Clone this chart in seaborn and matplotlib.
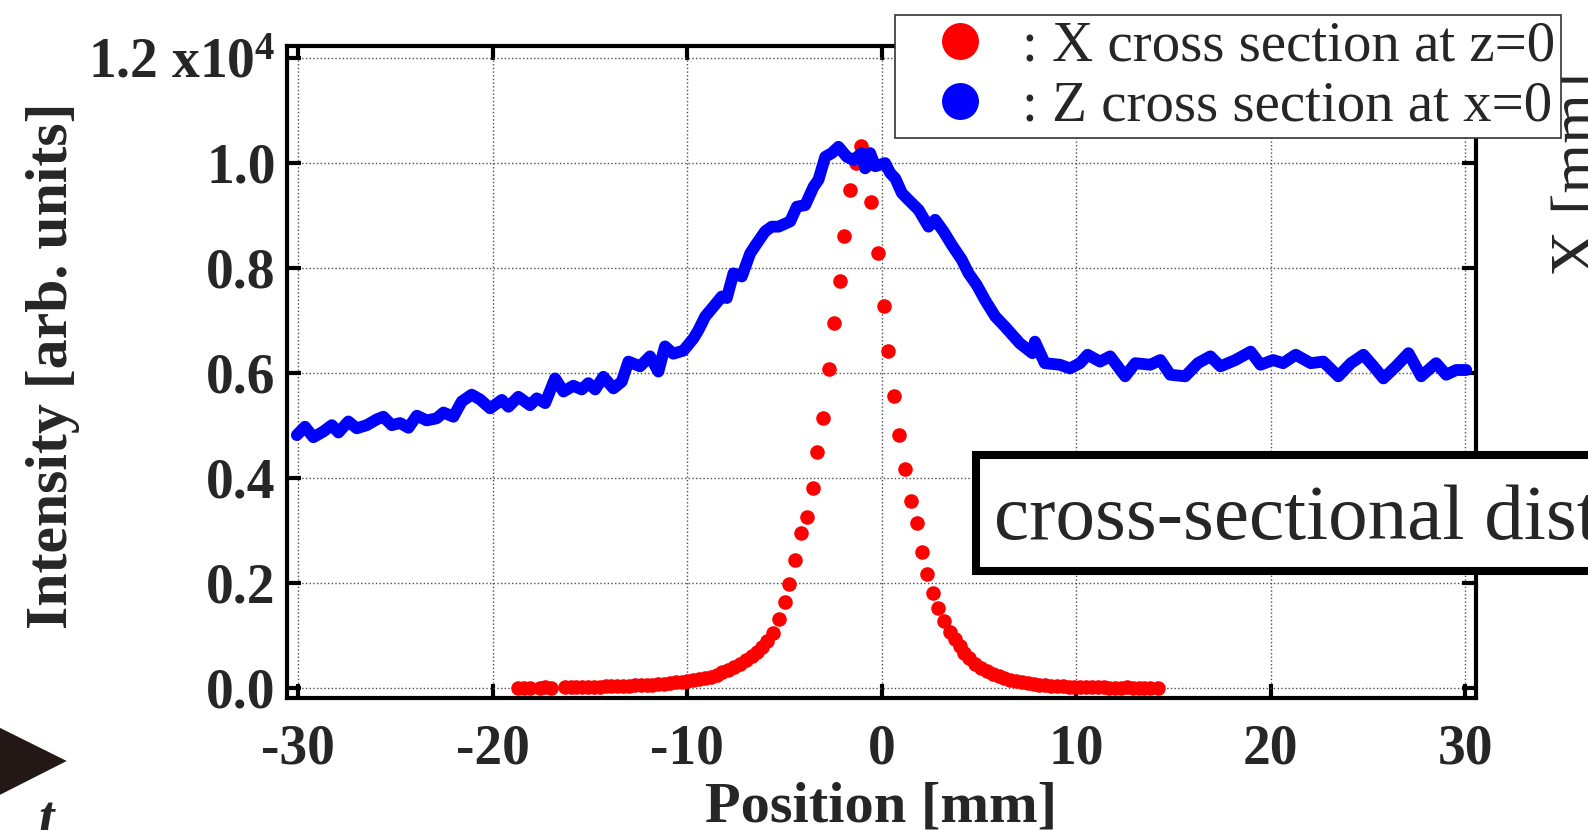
import matplotlib
matplotlib.use('Agg')
import matplotlib.pyplot as plt
import seaborn as sns
from matplotlib.lines import Line2D
from matplotlib.patches import Rectangle, Polygon

# X cross section at z=0 (red dots), intensity in units of 1e4
x_cross_pos = [-18.7, -18.4, -18.1, -17.6, -17.3, -17.0,
               -16.3, -16.0, -15.7, -15.4, -15.1, -14.8, -14.5, -14.2, -13.9, -13.6,
               -13.3, -13.0, -12.7, -12.4, -12.1, -11.8, -11.5, -11.2, -10.9, -10.6,
               -10.3, -10.0, -9.7, -9.4, -9.1, -8.8, -8.5, -8.2, -7.9, -7.6,
               -7.3, -7.0, -6.7, -6.4, -6.15, -5.9, -5.6, -5.3, -5.0, -4.75,
               -4.46, -4.15, -3.86, -3.56, -3.34, -3.04, -2.74, -2.45, -2.14, -1.94,
               -1.63, -1.35, -1.06, -0.80, -0.55, -0.22, 0.09, 0.34, 0.65, 0.88,
               1.20, 1.49, 1.79, 2.06, 2.30, 2.62, 2.90, 3.20, 3.48, 3.75,
               4.0, 4.25, 4.5, 4.8, 5.1, 5.4, 5.7, 6.0, 6.3, 6.6,
               6.9, 7.2, 7.5, 7.8, 8.1, 8.4, 8.7, 9.0, 9.3, 9.6,
               9.9, 10.2, 10.5, 10.8, 11.1, 11.4, 11.7, 12.0, 12.3, 12.6,
               12.9, 13.2, 13.5, 13.8, 14.2]
x_cross_int = [0.000, 0.000, 0.000, 0.000, 0.001, 0.000,
               0.001, 0.001, 0.001, 0.002, 0.002, 0.002, 0.002, 0.003, 0.003, 0.003,
               0.004, 0.004, 0.005, 0.005, 0.006, 0.006, 0.007, 0.008, 0.009, 0.010,
               0.011, 0.012, 0.014, 0.016, 0.018, 0.021, 0.025, 0.029, 0.034, 0.039,
               0.046, 0.053, 0.060, 0.068, 0.078, 0.088, 0.105, 0.130, 0.163, 0.197,
               0.243, 0.295, 0.326, 0.380, 0.448, 0.514, 0.606, 0.694, 0.775, 0.861,
               0.947, 1.000, 1.032, 0.995, 0.924, 0.827, 0.726, 0.642, 0.556, 0.481,
               0.416, 0.356, 0.313, 0.259, 0.216, 0.180, 0.152, 0.127, 0.107, 0.092,
               0.079, 0.067, 0.056, 0.046, 0.038, 0.031, 0.026, 0.022, 0.018, 0.015,
               0.012, 0.010, 0.009, 0.007, 0.006, 0.005, 0.004, 0.003, 0.003, 0.002,
               0.002, 0.001, 0.001, 0.001, 0.001, 0.001, 0.000, 0.000, 0.000, 0.001,
               0.000, 0.000, 0.000, 0.000, 0.000]

# Z cross section at x=0 (blue line)
z_cross_pos = [-30.08, -29.66, -29.23, -28.71, -28.28, -27.94, -27.43, -27.0, -26.48, -25.97,
               -25.63, -25.2, -24.77, -24.34, -23.91, -23.40, -22.89, -22.54, -22.03, -21.6,
               -21.09, -20.66, -20.14, -19.54, -19.2, -18.69, -18.09, -17.74, -17.31, -16.8,
               -16.37, -15.86, -15.43, -15.09, -14.74, -14.32, -13.80, -13.37, -13.03, -12.43,
               -11.92, -11.49, -11.15, -10.72, -10.2, -9.69, -9.43, -9.08, -8.65, -8.23,
               -7.97, -7.63, -7.2, -6.77, -6.43, -6.0, -5.66, -5.31, -4.71, -4.37,
               -3.94, -3.51, -3.26, -2.91, -2.57, -2.23, -1.80, -1.46, -1.03, -0.86,
               -0.6, -0.34, 0.17, 0.43, 0.69, 1.03, 1.37, 1.89, 2.40, 2.74,
               3.17, 3.60, 4.11, 4.46, 4.88, 5.31, 5.83, 6.32, 7.09, 7.74,
               7.87, 8.38, 9.16, 9.67, 10.19, 10.58, 11.22, 11.74, 12.51, 13.03,
               13.80, 14.32, 14.83, 15.6, 16.25, 16.89, 17.41, 18.18, 18.96, 19.47,
               20.12, 20.63, 21.28, 22.05, 22.7, 23.47, 24.12, 24.76, 25.28, 25.79,
               26.44, 27.08, 27.73, 28.5, 29.02, 29.53, 30.05]
z_cross_int = [0.481, 0.497, 0.477, 0.488, 0.500, 0.486, 0.507, 0.494, 0.500, 0.511,
               0.516, 0.500, 0.504, 0.495, 0.518, 0.509, 0.513, 0.524, 0.516, 0.545,
               0.558, 0.549, 0.532, 0.548, 0.535, 0.554, 0.538, 0.551, 0.542, 0.589,
               0.564, 0.575, 0.568, 0.580, 0.568, 0.592, 0.570, 0.583, 0.621, 0.612,
               0.631, 0.602, 0.650, 0.636, 0.642, 0.665, 0.681, 0.707, 0.726, 0.745,
               0.742, 0.789, 0.783, 0.827, 0.846, 0.869, 0.878, 0.878, 0.888, 0.916,
               0.919, 0.954, 0.967, 1.011, 1.018, 1.030, 1.011, 1.005, 1.018, 0.989,
               1.018, 0.993, 0.999, 0.980, 0.970, 0.942, 0.929, 0.910, 0.878, 0.891,
               0.869, 0.843, 0.815, 0.789, 0.767, 0.738, 0.707, 0.688, 0.656, 0.637,
               0.659, 0.618, 0.615, 0.608, 0.618, 0.634, 0.621, 0.631, 0.593, 0.618,
               0.615, 0.624, 0.596, 0.593, 0.618, 0.631, 0.612, 0.624, 0.640, 0.615,
               0.624, 0.618, 0.634, 0.618, 0.621, 0.593, 0.618, 0.634, 0.612, 0.589,
               0.612, 0.637, 0.593, 0.618, 0.596, 0.605, 0.605]

xticks = [-30, -20, -10, 0, 10, 20, 30]
yticks = [0.0, 0.2, 0.4, 0.6, 0.8, 1.0, 1.2]
ytick_labels = ['0.0', '0.2', '0.4', '0.6', '0.8', '1.0', '1.2 x10$^{4}$']
legend_labels = [': X cross section at z=0', ': Z cross section at x=0']

sns.set_style('ticks')
plt.rcParams['font.family'] = ['Liberation Serif', 'DejaVu Serif']
plt.rcParams['mathtext.fontset'] = 'custom'
plt.rcParams['mathtext.rm'] = 'Liberation Serif:bold'
plt.rcParams['mathtext.bf'] = 'Liberation Serif:bold'
plt.rcParams['mathtext.it'] = 'Liberation Serif:italic:bold'
plt.rcParams['axes.unicode_minus'] = False

W, H = 1588, 830
fig = plt.figure(figsize=(15.88, 8.30), dpi=100)
ax = fig.add_axes([286.7 / W, 1 - 698 / H, (1476 - 286.7) / W, (698 - 46) / H])

sns.scatterplot(x=x_cross_pos, y=x_cross_int, color='#ff0000', s=110, linewidth=0,
                ax=ax, zorder=3)
sns.lineplot(x=z_cross_pos, y=z_cross_int, color='#0000ff', lw=8.5, ax=ax,
             estimator=None, sort=False, zorder=4,
             solid_joinstyle='round', solid_capstyle='round')

ax.set_xlim(-30.6, 30.55)
ax.set_ylim(-0.0196, 1.222)
ax.set_xticks(xticks, [str(t) for t in xticks], fontsize=40, fontweight='bold')
ax.set_yticks(yticks, ytick_labels, fontsize=40, fontweight='bold')
ax.grid(True, ls=':', lw=1.0, color='0.3')
ax.set_axisbelow(True)
for s in ax.spines.values():
    s.set_visible(True)
    s.set_linewidth(3)
    s.set_color('k')
ax.tick_params(direction='in', length=10, width=3, top=True, right=True,
               labeltop=False, labelright=False, color='k')
ax.tick_params(axis='x', pad=18)
ax.tick_params(axis='y', pad=8)

ax.set_xlabel('Position [mm]', fontsize=42, fontweight='bold')
ax.xaxis.set_label_coords(0.5, -0.128)
ax.set_ylabel('Intensity [arb. units]', fontsize=43, fontweight='bold')
ax.yaxis.set_label_coords(-0.1734, 0.51)

handles = [Line2D([], [], ls='', marker='o', ms=26.6, color='#ff0000', mec='none'),
           Line2D([], [], ls='', marker='o', ms=26.6, color='#0000ff', mec='none')]
leg = ax.legend(handles, legend_labels, loc='upper right',
                bbox_to_anchor=(1560.7 / W, 1 - 15 / H), bbox_transform=fig.transFigure,
                prop={'family': 'Liberation Serif', 'size': 41},
                frameon=True, fancybox=False, framealpha=1, edgecolor='0.2',
                borderpad=0.1, handlelength=2.08, handletextpad=0.05,
                labelspacing=0.14, borderaxespad=0)
leg.get_frame().set_linewidth(1.2)

# pieces of the surrounding figure that are cut by the crop
fig.text(1551 / W, 1 - 173.5 / H, 'X [mm]', rotation=90, fontsize=46,
         ha='left', va='center', zorder=-1)
fig.add_artist(Rectangle((976 / W, 1 - 571 / H), (1700 - 976) / W, (571 - 455) / H,
                         transform=fig.transFigure, facecolor='white', edgecolor='k',
                         lw=5.8, zorder=5, clip_on=False))
fig.text(993.5 / W, 1 - 539 / H, 'cross-sectional distribution', fontsize=57,
         va='baseline', ha='left', zorder=6)
fig.add_artist(Polygon([(-30 / W, 1 - 713 / H), (66.7 / W, 1 - 761 / H), (-30 / W, 1 - 810 / H)],
                       closed=True, transform=fig.transFigure, facecolor='#231815',
                       edgecolor='none', zorder=5))
fig.text(38 / W, 1 - 835 / H, 't', fontsize=40, style='italic', fontweight='bold',
         va='baseline', ha='left')

fig.savefig('out.png', dpi=100)
